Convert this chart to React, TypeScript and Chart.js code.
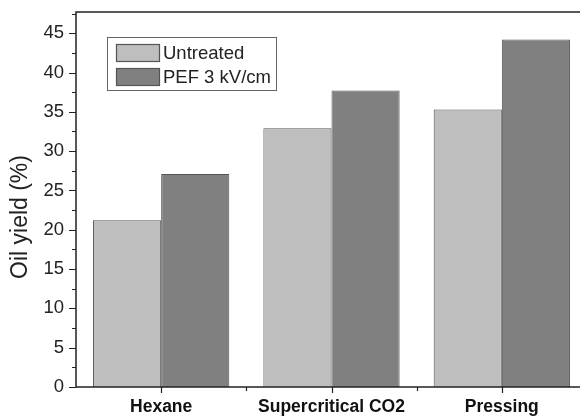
import React, { useEffect, useRef } from "react";
import { Chart, registerables } from "chart.js";

Chart.register(...registerables);

const categories = ["Hexane", "Supercritical CO2", "Pressing"];
const untreated = [21.2, 32.9, 35.3];
const pef = [27.1, 37.7, 44.2];
const seriesNames = ["Untreated", "PEF 3 kV/cm"];
const yTicks = [0, 5, 10, 15, 20, 25, 30, 35, 40, 45];
const yTitle = "Oil yield (%)";
const yMax = 47.7;

const FONT = "'Liberation Sans', Arial, sans-serif";

const decor = {
  id: "decor",
  afterDraw(chart: any) {
    const ctx = chart.ctx;
    const { left, right, top, bottom } = chart.chartArea;
    const y = chart.scales.y;
    const x = chart.scales.x;
    ctx.save();
    // frame
    ctx.strokeStyle = "#222";
    ctx.lineWidth = 1.5;
    ctx.strokeRect(left, top, right - left, bottom - top);
    // y ticks
    ctx.lineWidth = 1.2;
    ctx.beginPath();
    for (let v = 0; v <= yMax; v += 2.5) {
      const py = Math.round(y.getPixelForValue(v)) + 0.5;
      const major = Math.abs(v / 5 - Math.round(v / 5)) < 1e-6;
      ctx.moveTo(left, py);
      ctx.lineTo(left - (major ? 7 : 4), py);
    }
    // x ticks
    const n = categories.length;
    for (let i = 0; i < n; i++) {
      const px = Math.round(x.getPixelForValue(i)) + 0.5;
      ctx.moveTo(px, bottom);
      ctx.lineTo(px, bottom + 6);
      if (i < n - 1) {
        const pb = Math.round((x.getPixelForValue(i) + x.getPixelForValue(i + 1)) / 2) + 0.5;
        ctx.moveTo(pb, bottom);
        ctx.lineTo(pb, bottom + 4);
      }
    }
    ctx.stroke();
    // y title
    ctx.fillStyle = "#222";
    ctx.font = `23px ${FONT}`;
    ctx.textAlign = "center";
    ctx.textBaseline = "middle";
    ctx.translate(21, 217);
    ctx.rotate(-Math.PI / 2);
    ctx.fillText(yTitle, 0, 0);
    ctx.restore();

    // legend
    ctx.save();
    const lx = 107.5, ly = 37.5, lw = 169, lh = 53;
    ctx.fillStyle = "#fff";
    ctx.fillRect(lx, ly, lw, lh);
    ctx.strokeStyle = "#666";
    ctx.lineWidth = 1;
    ctx.strokeRect(lx, ly, lw, lh);
    ctx.font = `18.5px ${FONT}`;
    ctx.textAlign = "left";
    ctx.textBaseline = "middle";
    const rows = [44, 68];
    chart.data.datasets.forEach((ds: any, i: number) => {
      const ry = rows[i];
      ctx.fillStyle = ds.backgroundColor;
      ctx.fillRect(116.5, ry + 0.5, 43, 17);
      ctx.strokeStyle = "#555";
      ctx.lineWidth = 1.2;
      ctx.strokeRect(116.5, ry + 0.5, 43, 17);
      ctx.fillStyle = "#222";
      ctx.fillText(ds.label, 163, ry + 9.5);
    });
    ctx.restore();
  },
};

export default function App() {
  const ref = useRef<HTMLCanvasElement>(null);
  useEffect(() => {
    const chart = new Chart(ref.current!, {
      type: "bar",
      data: {
        labels: categories,
        datasets: [
          {
            label: seriesNames[0],
            data: untreated,
            backgroundColor: "#bebebe",
            borderColor: "#555",
            borderWidth: 1,
            categoryPercentage: 0.8,
            barPercentage: 1.0,
          },
          {
            label: seriesNames[1],
            data: pef,
            backgroundColor: "#808080",
            borderColor: "#555",
            borderWidth: 1,
            categoryPercentage: 0.8,
            barPercentage: 1.0,
          },
        ],
      },
      options: {
        animation: false,
        responsive: false,
        maintainAspectRatio: false,
        layout: { padding: { left: 0, top: 12, right: 13, bottom: 0 } },
        plugins: { legend: { display: false }, tooltip: { enabled: false } },
        scales: {
          y: {
            min: 0,
            max: yMax,
            grid: { display: false, drawTicks: false },
            border: { display: false },
            afterBuildTicks: (s: any) => {
              s.ticks = yTicks.map((v) => ({ value: v }));
            },
            ticks: {
              autoSkip: false,
              padding: 12,
              color: "#222",
              font: { family: FONT, size: 18.5 },
              callback: (v: any) => String(v),
            },
            afterFit: (s: any) => {
              s.width = 76;
              s.paddingTop = 0;
              s.paddingBottom = 0;
            },
          },
          x: {
            grid: { display: false, drawTicks: false },
            border: { display: false },
            ticks: {
              padding: 10,
              color: "#111",
              font: { family: FONT, size: 17.5, weight: "bold" },
              maxRotation: 0,
            },
            afterFit: (s: any) => {
              s.height = 29;
            },
          },
        },
      },
      plugins: [decor],
    });
    return () => chart.destroy();
  }, []);
  return (
    <div
      style={{
        position: "fixed",
        left: 0,
        top: 0,
        width: 580,
        height: 416,
        overflow: "hidden",
        background: "#fff",
      }}
    >
      <canvas ref={ref} width={600} height={416} style={{ display: "block" }} />
    </div>
  );
}
